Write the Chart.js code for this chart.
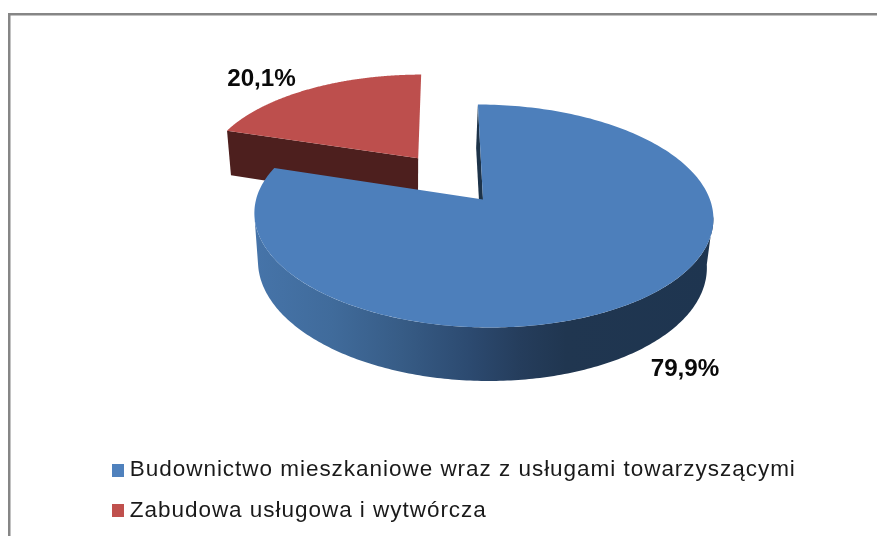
<!DOCTYPE html>
<html lang="pl">
<head>
<meta charset="utf-8">
<title>Struktura zabudowy</title>
<style>
html,body{margin:0;padding:0;background:#fff;}
canvas{display:block;}
</style>
<script src="https://cdn.jsdelivr.net/npm/chart.js@4/dist/chart.umd.min.js"></script>
</head>
<body>
<canvas id="c" width="877" height="536"></canvas>
<script>
const categories = ["Budownictwo mieszkaniowe wraz z usługami towarzyszącymi", "Zabudowa usługowa i wytwórcza"];
const shares = [79.9, 20.1];
const topColors = ["#4d7fbb", "#bd4f4d"];
const legendColors = ["#4f81bd", "#c0504d"];

// Perspective camera for the 3D pie: unit-disc coordinates to screen
const cam = {
  d: 6.76,
  skew: 0.054,
  top: {x0: 483, y0: 199.5, ax: 1534, by: 737},
  base: {x0: 481.5, y0: 247.2, ax: 1500, by: 770.6}
};
const explodeBy = [0, 0.495];
const sliceRadius = [1, 0.98];
const labelAnchors = [{x: 685, y: 376}, {x: 261.5, y: 86}];

function project(layer, u, v) {
  const k = cam.d - v;
  const y = layer.y0 + layer.by * v / k;
  return {x: layer.x0 + cam.skew * (y - layer.y0) + layer.ax * u / k, y};
}

function sliceGeom(el, i) {
  const p = el.getProps(['startAngle', 'endAngle'], true);
  const mid = (p.startAngle + p.endAngle) / 2;
  return {
    a0: p.startAngle, a1: p.endAngle,
    cu: Math.cos(mid) * explodeBy[i],
    cv: Math.sin(mid) * explodeBy[i],
    r: sliceRadius[i]
  };
}

function rimPoint(g, layer, a) {
  return project(layer, g.cu + g.r * Math.cos(a), g.cv + g.r * Math.sin(a));
}

function traceTop(ctx, g) {
  const n = 240;
  const c = project(cam.top, g.cu, g.cv);
  ctx.beginPath();
  ctx.moveTo(c.x, c.y);
  for (let k = 0; k <= n; k++) {
    const q = rimPoint(g, cam.top, g.a0 + (g.a1 - g.a0) * k / n);
    ctx.lineTo(q.x, q.y);
  }
  ctx.closePath();
}

function radialWall(ctx, g, a, fill) {
  const c1 = project(cam.top, g.cu, g.cv);
  const c2 = project(cam.base, g.cu, g.cv);
  const r1 = rimPoint(g, cam.top, a);
  const r2 = rimPoint(g, cam.base, a);
  ctx.fillStyle = fill;
  ctx.beginPath();
  ctx.moveTo(c1.x, c1.y); ctx.lineTo(r1.x, r1.y); ctx.lineTo(r2.x, r2.y); ctx.lineTo(c2.x, c2.y);
  ctx.closePath();
  ctx.fill();
}

function rimWall(ctx, g) {
  const t = Math.asin(1 / cam.d);
  const from = t, to = Math.PI - t, n = 200;
  const grad = ctx.createLinearGradient(254, 0, 713, 0);
  grad.addColorStop(0, "#4674a9");
  grad.addColorStop(0.17, "#406b9b");
  grad.addColorStop(0.32, "#375c86");
  grad.addColorStop(0.47, "#2c4a70");
  grad.addColorStop(0.58, "#253d5c");
  grad.addColorStop(0.68, "#203650");
  grad.addColorStop(1, "#1e3550");
  ctx.fillStyle = grad;
  ctx.beginPath();
  for (let k = 0; k <= n; k++) {
    const q = rimPoint(g, cam.top, from + (to - from) * k / n);
    k ? ctx.lineTo(q.x, q.y) : ctx.moveTo(q.x, q.y);
  }
  for (let k = n; k >= 0; k--) {
    const q = rimPoint(g, cam.base, from + (to - from) * k / n);
    ctx.lineTo(q.x, q.y);
  }
  ctx.closePath();
  ctx.fill();
}

const pie3d = {
  id: 'pie3d',
  beforeDraw(chart) {
    const ctx = chart.ctx;
    ctx.save();
    ctx.fillStyle = "#fff";
    ctx.fillRect(0, 0, chart.width, chart.height);
    ctx.fillStyle = "#868686";
    ctx.fillRect(8, 13, chart.width - 8, 2.5);
    ctx.fillRect(8, 13, 2.5, chart.height - 13);
    ctx.restore();
    const lg = chart.legend;
    lg.left = 99.5;
    lg.top = 441;
    lg.right = chart.width;
    lg.bottom = chart.height + 60;
    ctx.letterSpacing = "0.97px";
  },
  beforeDatasetsDraw(chart) {
    const ctx = chart.ctx;
    const meta = chart.getDatasetMeta(0);
    const blue = sliceGeom(meta.data[0], 0);
    const red = sliceGeom(meta.data[1], 1);
    ctx.save();
    ctx.letterSpacing = "0px";
    // exploded red slice, behind
    radialWall(ctx, red, red.a0, "#4d1f1e");
    traceTop(ctx, red);
    ctx.fillStyle = topColors[1];
    ctx.fill();
    // blue slice
    radialWall(ctx, blue, blue.a0, "#1d3349");
    rimWall(ctx, blue);
    traceTop(ctx, blue);
    ctx.fillStyle = topColors[0];
    ctx.fill();
    // value labels
    ctx.fillStyle = "#0a0a0a";
    ctx.font = "bold 24.2px 'Liberation Sans', Arial, sans-serif";
    ctx.textAlign = "center";
    ctx.textBaseline = "alphabetic";
    shares.forEach((s, i) => {
      ctx.fillText(s.toFixed(1).replace('.', ',') + '%', labelAnchors[i].x, labelAnchors[i].y);
    });
    ctx.restore();
    return false;
  },
  afterDraw(chart) { chart.ctx.letterSpacing = "0px"; }
};

function swatch(color) {
  const s = document.createElement('canvas');
  s.width = 12; s.height = 13;
  const g = s.getContext('2d');
  g.fillStyle = color;
  g.fillRect(0, 0, 12, 13);
  return s;
}

new Chart(document.getElementById('c'), {
  type: 'pie',
  data: {
    labels: categories,
    datasets: [{
      data: shares,
      backgroundColor: topColors,
      borderWidth: 0
    }]
  },
  options: {
    responsive: false,
    animation: false,
    plugins: {
      tooltip: {enabled: false},
      legend: {
        display: true,
        position: 'left',
        align: 'start',
        maxWidth: 760,
        labels: {
          usePointStyle: true,
          pointStyleWidth: 1,
          boxHeight: 12,
          padding: 18,
          color: "#1a1a1a",
          font: {family: "'Liberation Sans', Arial, sans-serif", size: 22.5},
          generateLabels(chart) {
            return Chart.overrides.pie.plugins.legend.labels.generateLabels(chart)
              .map((it, i) => Object.assign(it, {pointStyle: swatch(legendColors[i])}));
          }
        }
      }
    }
  },
  plugins: [pie3d]
});
</script>
</body>
</html>
